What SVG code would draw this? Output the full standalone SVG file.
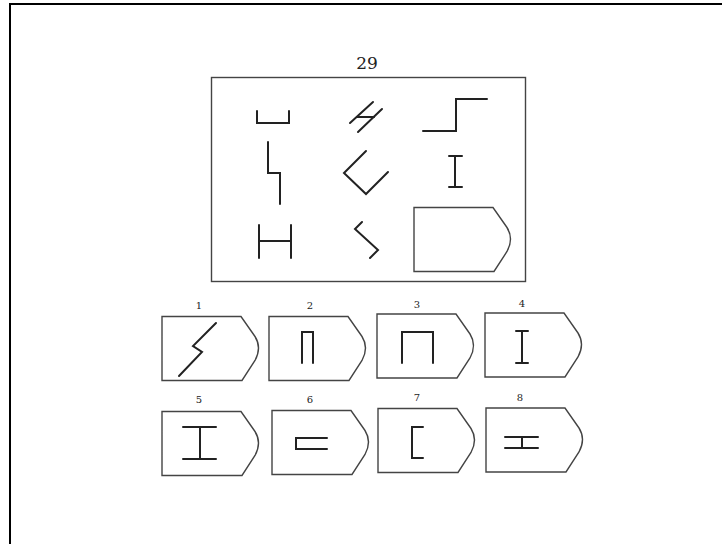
<svg xmlns="http://www.w3.org/2000/svg" width="722" height="544" viewBox="0 0 722 544">
<defs>
<style>
.frame{fill:none;stroke:#000;stroke-width:2}
.box{fill:#fff;stroke:#444;stroke-width:1.4}
.fig{fill:none;stroke:#222;stroke-width:2;stroke-linecap:round;stroke-linejoin:miter}
.num{font-family:"DejaVu Serif","Liberation Serif",serif;fill:#222;text-anchor:middle}
</style>
<path id="tag" d="M0,0 H79 L93,20 Q100,31 93,44 L80,64 H0 Z"/>
</defs>
<rect width="722" height="544" fill="#fff"/>
<g id="frame">
<line class="frame" x1="9" y1="4" x2="722" y2="4"/>
<line class="frame" x1="10" y1="4" x2="10" y2="544"/>
</g>
<g id="question">
<text class="num" x="367" y="69" font-size="17">29</text>
<rect class="box" x="211.5" y="77.5" width="314" height="204"/>
<g id="q1"><polyline class="fig" points="257,111 257,123 289,123 289,111"/></g>
<g id="q2"><line class="fig" x1="350" y1="123" x2="373" y2="102"/><line class="fig" x1="358" y1="132" x2="382" y2="109"/><line class="fig" x1="357" y1="117" x2="374" y2="117"/></g>
<g id="q3"><polyline class="fig" points="423,131 456,131 456,99 487,99"/></g>
<g id="q4"><polyline class="fig" points="268,142 268,173 280,173 280,204"/></g>
<g id="q5"><polyline class="fig" points="366,151 344,173 366,194 388,172"/></g>
<g id="q6"><line class="fig" x1="455" y1="156" x2="455" y2="187"/><line class="fig" x1="449" y1="156" x2="462" y2="156"/><line class="fig" x1="449" y1="187" x2="462" y2="187"/></g>
<g id="q7"><line class="fig" x1="259" y1="225" x2="259" y2="258"/><line class="fig" x1="291" y1="225" x2="291" y2="258"/><line class="fig" x1="259" y1="241" x2="291" y2="241"/></g>
<g id="q8"><polyline class="fig" points="362,222 355,229 378,250 370,258"/></g>
<use href="#tag" class="box" x="414" y="207.5"/>
</g>
<g id="opt1"><text class="num" x="199" y="309" font-size="10">1</text><use href="#tag" class="box" x="162" y="316.5"/><polyline class="fig" points="216,323 193,346 202,352 179,376"/></g>
<g id="opt2"><text class="num" x="310" y="309" font-size="10">2</text><use href="#tag" class="box" x="269" y="316.5"/><polyline class="fig" points="302,363 302,332 313,332 313,363"/></g>
<g id="opt3"><text class="num" x="417" y="308" font-size="10">3</text><use href="#tag" class="box" x="377" y="314"/><polyline class="fig" points="402,363 402,332 433,332 433,363"/></g>
<g id="opt4"><text class="num" x="522" y="307" font-size="10">4</text><use href="#tag" class="box" x="485" y="313"/><line class="fig" x1="522" y1="331" x2="522" y2="363"/><line class="fig" x1="516" y1="331" x2="528" y2="331"/><line class="fig" x1="516" y1="363" x2="528" y2="363"/></g>
<g id="opt5"><text class="num" x="199" y="403" font-size="10">5</text><use href="#tag" class="box" x="162" y="411.5"/><line class="fig" x1="200" y1="427" x2="200" y2="459"/><line class="fig" x1="183" y1="427" x2="216" y2="427"/><line class="fig" x1="183" y1="459" x2="216" y2="459"/></g>
<g id="opt6"><text class="num" x="310" y="403" font-size="10">6</text><use href="#tag" class="box" x="272" y="410.5"/><polyline class="fig" points="327,438 296,438 296,449 327,449"/></g>
<g id="opt7"><text class="num" x="417" y="401" font-size="10">7</text><use href="#tag" class="box" x="378" y="408.5"/><polyline class="fig" points="423,427 412,427 412,458 423,458"/></g>
<g id="opt8"><text class="num" x="520" y="401" font-size="10">8</text><use href="#tag" class="box" x="486" y="408"/><line class="fig" x1="505" y1="437" x2="538" y2="437"/><line class="fig" x1="505" y1="448" x2="538" y2="448"/><line class="fig" x1="522" y1="437" x2="522" y2="448"/></g>
</svg>
